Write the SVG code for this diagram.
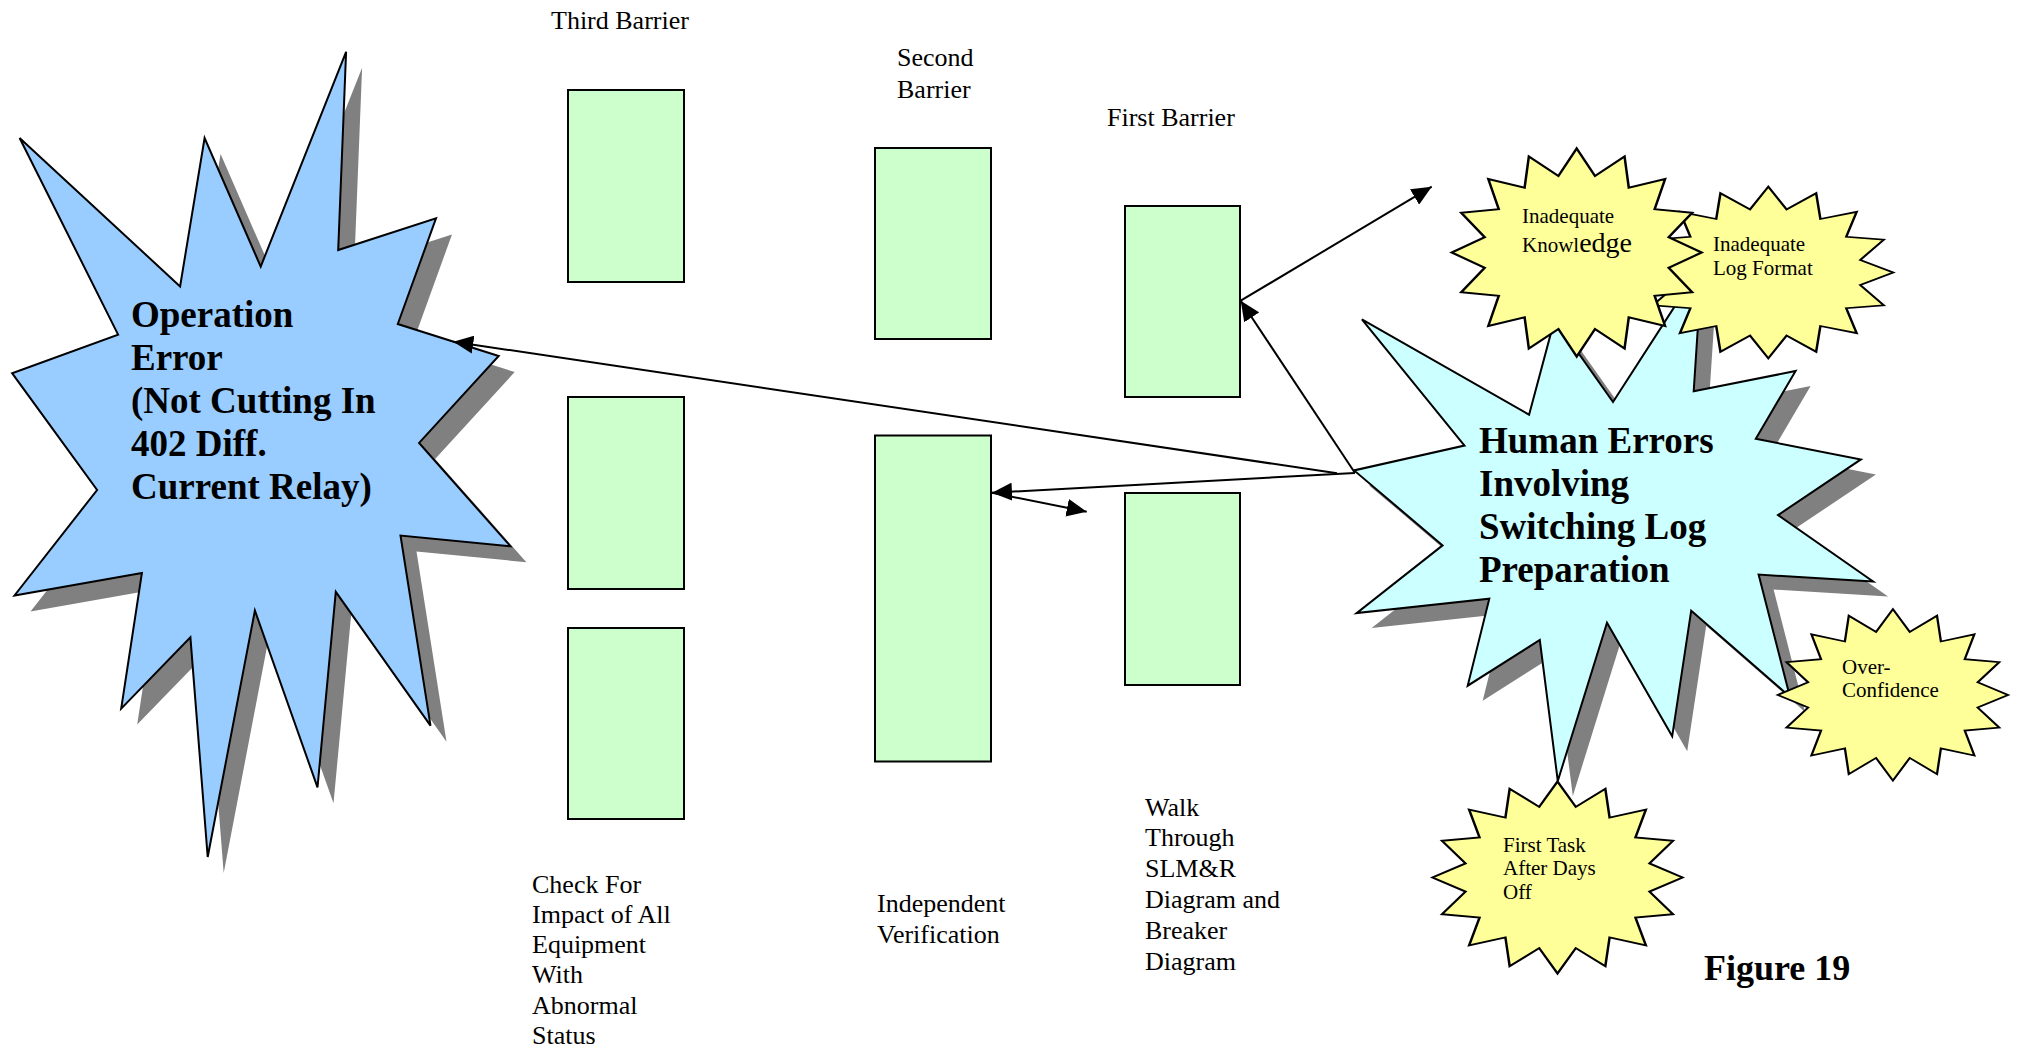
<svg xmlns="http://www.w3.org/2000/svg" xmlns:xlink="http://www.w3.org/1999/xlink" width="2017" height="1050" viewBox="0 0 2017 1050">
  <style>
    .barrier { fill: #CCFFCC; stroke: #000; stroke-width: 2; }
    .label { font-family: "Liberation Serif", "Times New Roman", serif; font-size: 26px; fill: #000; }
    .big { font-family: "Liberation Serif", "Times New Roman", serif; font-size: 37px; font-weight: bold; fill: #000; }
    .small { font-family: "Liberation Serif", "Times New Roman", serif; font-size: 21px; fill: #000; }
    .shadow { fill: #808080; stroke: none; }
    .seal { fill: #FFFF99; stroke: #000; stroke-width: 2; vector-effect: non-scaling-stroke; stroke-linejoin: miter; }
    .edge { stroke: #000; stroke-width: 2; fill: none; marker-end: url(#arrow); }
  </style>
  <defs>
    <marker id="arrow" markerUnits="userSpaceOnUse" markerWidth="20" markerHeight="18" refX="20" refY="9" orient="auto">
      <path d="M0,0 L20,9 L0,18 z" fill="#000"/>
    </marker>
    <!-- 16-point seal, outer radius 100, inner radius 75 -->
    <polygon id="seal16" points="0,-100 14.63,-73.56 38.27,-92.39 41.67,-62.36 70.71,-70.71 62.36,-41.67 92.39,-38.27 73.56,-14.63 100,0 73.56,14.63 92.39,38.27 62.36,41.67 70.71,70.71 41.67,62.36 38.27,92.39 14.63,73.56 0,100 -14.63,73.56 -38.27,92.39 -41.67,62.36 -70.71,70.71 -62.36,41.67 -92.39,38.27 -73.56,14.63 -100,0 -73.56,-14.63 -92.39,-38.27 -62.36,-41.67 -70.71,-70.71 -41.67,-62.36 -38.27,-92.39 -14.63,-73.56"/>
    <polygon id="blastBlue" points="346.1,51.8 338.2,250 436,218.4 397.8,324 498.7,356 419.1,442.9 510.4,546.2 400.5,535.5 430.5,725.7 335.8,591.8 317.5,787.3 254.9,610.5 207.7,857 190.4,637.3 121.2,708.6 141.9,573 14.5,595.5 97.1,490 12.1,373.2 118.1,334.6 19.6,138 180.1,286.4 204.6,138 260.7,266.6"/>
    <polygon id="blastCyan" points="1702,264.1 1693.7,391.3 1795.6,371 1755.8,438.8 1860.9,459.4 1778,515.1 1873.1,581.5 1758.6,574.6 1789.9,696.7 1691.2,610.7 1672.2,736.3 1607,622.7 1557.8,781 1539.8,640 1467.7,685.7 1489.3,598.7 1356.6,613.1 1442.6,545.4 1354.1,470.4 1464.5,445.6 1361.9,319.4 1529.1,414.7 1554.6,319.4 1613,402"/>
  </defs>

  <!-- outcome: operation error -->
  <g id="operation-error">
    <use xlink:href="#blastBlue" class="shadow" transform="translate(16,16)"/>
    <use xlink:href="#blastBlue" fill="#99CCFF" stroke="#000" stroke-width="2"/>
    <text class="big">
      <tspan x="131" y="327">Operation</tspan>
      <tspan x="131" y="370">Error</tspan>
      <tspan x="131" y="413">(Not Cutting In</tspan>
      <tspan x="131" y="456">402 Diff.</tspan>
      <tspan x="131" y="499">Current Relay)</tspan>
    </text>
  </g>

  <!-- barrier headings -->
  <g id="barrier-titles">
    <text class="label" x="551" y="29">Third Barrier</text>
    <text class="label"><tspan x="897" y="66">Second</tspan><tspan x="897" y="98">Barrier</tspan></text>
    <text class="label" x="1107" y="126">First Barrier</text>
  </g>

  <!-- third barrier column -->
  <g id="third-barrier">
    <rect class="barrier" x="568" y="90" width="116" height="192"/>
    <rect class="barrier" x="568" y="397" width="116" height="192"/>
    <rect class="barrier" x="568" y="628" width="116" height="191"/>
    <text class="label">
      <tspan x="532" y="893">Check For</tspan>
      <tspan x="532" y="923">Impact of All</tspan>
      <tspan x="532" y="953">Equipment</tspan>
      <tspan x="532" y="983">With</tspan>
      <tspan x="532" y="1014">Abnormal</tspan>
      <tspan x="532" y="1044">Status</tspan>
    </text>
  </g>

  <!-- second barrier column -->
  <g id="second-barrier">
    <rect class="barrier" x="875" y="148" width="116" height="191"/>
    <rect class="barrier" x="875" y="435.5" width="116" height="326"/>
    <text class="label">
      <tspan x="877" y="912">Independent</tspan>
      <tspan x="877" y="943">Verification</tspan>
    </text>
  </g>

  <!-- first barrier column -->
  <g id="first-barrier">
    <rect class="barrier" x="1125" y="206" width="115" height="191"/>
    <rect class="barrier" x="1125" y="493" width="115" height="192"/>
    <text class="label">
      <tspan x="1145" y="816">Walk</tspan>
      <tspan x="1145" y="846">Through</tspan>
      <tspan x="1145" y="877">SLM&amp;R</tspan>
      <tspan x="1145" y="908">Diagram and</tspan>
      <tspan x="1145" y="939">Breaker</tspan>
      <tspan x="1145" y="970">Diagram</tspan>
    </text>
  </g>

  <!-- root cause: human errors -->
  <g id="human-errors">
    <use xlink:href="#blastCyan" class="shadow" transform="translate(15,15)"/>
    <use xlink:href="#blastCyan" fill="#CCFFFF" stroke="#000" stroke-width="2"/>
    <text class="big">
      <tspan x="1479" y="453">Human Errors</tspan>
      <tspan x="1479" y="496">Involving</tspan>
      <tspan x="1479" y="539">Switching Log</tspan>
      <tspan x="1479" y="582">Preparation</tspan>
    </text>
  </g>

  <!-- contributing factors -->
  <g id="inadequate-log-format">
    <use xlink:href="#seal16" class="seal" transform="translate(1768.3,272.5) scale(1.25,0.858)"/>
    <text class="small"><tspan x="1713" y="251">Inadequate</tspan><tspan x="1713" y="275">Log Format</tspan></text>
  </g>
  <g id="inadequate-knowledge">
    <use xlink:href="#seal16" class="seal" transform="translate(1576.7,252.5) scale(1.25,1.04)"/>
    <text class="small"><tspan x="1522" y="223">Inadequate</tspan><tspan x="1522" y="252">Knowl<tspan font-size="28">edge</tspan></tspan></text>
  </g>
  <g id="over-confidence">
    <use xlink:href="#seal16" class="seal" transform="translate(1892.9,694.9) scale(1.152,0.857)"/>
    <text class="small"><tspan x="1842" y="674">Over-</tspan><tspan x="1842" y="697">Confidence</tspan></text>
  </g>
  <g id="first-task">
    <use xlink:href="#seal16" class="seal" transform="translate(1557.5,877.5) scale(1.25,0.96)"/>
    <text class="small"><tspan x="1503" y="852">First Task</tspan><tspan x="1503" y="875">After Days</tspan><tspan x="1503" y="899">Off</tspan></text>
  </g>

  <!-- connectors -->
  <g id="connectors">
    <line class="edge" x1="1337" y1="473.3" x2="453.3" y2="341.7"/>
    <line class="edge" x1="1355" y1="473" x2="992" y2="492.7"/>
    <line class="edge" x1="992" y1="492.7" x2="1086.7" y2="511.7"/>
    <line class="edge" x1="1355" y1="473" x2="1240.7" y2="300.7"/>
    <line class="edge" x1="1240.7" y1="300.7" x2="1431.7" y2="186.7"/>
  </g>

  <text id="figure-caption" x="1704" y="980" class="big" style="font-size:36px">Figure 19</text>
</svg>
